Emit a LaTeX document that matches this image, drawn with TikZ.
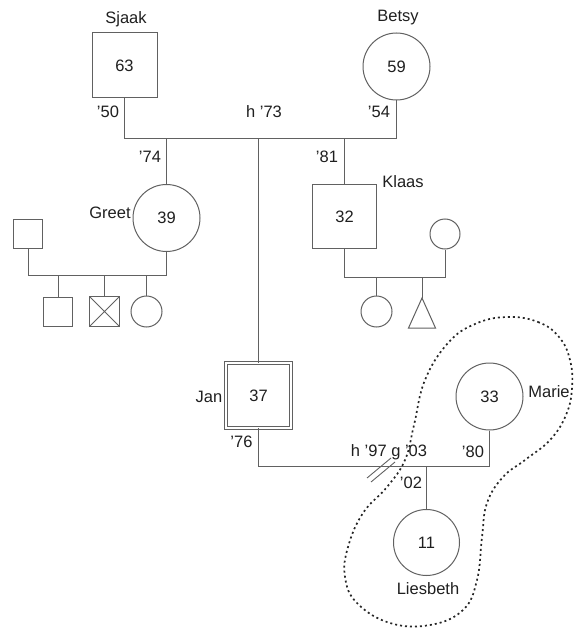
\documentclass[tikz,border=0pt]{standalone}
\usepackage{fontspec}
\setmainfont{Liberation Sans}
\usetikzlibrary{calc}
\begin{document}
\begin{tikzpicture}[x=1pt,y=-1pt,
  ln/.style={draw=black!62,line width=1pt},
  person/.style={ln,inner sep=0pt,font=\fontsize{16.5}{19}\selectfont,text=black!88},
  male/.style={person,rectangle,minimum size=#1},
  female/.style={person,circle,minimum size=#1},
  lbl/.style={inner sep=0pt,font=\fontsize{16.5}{19}\selectfont,text=black!88},
  crossed/.style={path picture={\draw[black!62,line width=1pt]
     (path picture bounding box.north west) -- (path picture bounding box.south east)
     (path picture bounding box.north east) -- (path picture bounding box.south west);}},
  conn/.style={draw=black!62,line width=1pt}
]
\useasboundingbox (0,0) rectangle (574,628);

% persons
\node[male=65] (sjaak) at (124.5,65.5) {63};
\node[female=67] (betsy) at (396.5,66.5) {59};
\node[female=67] (greet) at (166.5,218) {39};
\node[male=64] (klaas) at (344.5,216.5) {32};
\node[male=65,double=white,double distance=2.2pt,line width=0.8pt] (jan) at (258.5,395.5) {37};
\node[female=67] (marie) at (489.5,396.5) {33};
\node[female=66] (liesbeth) at (426.5,542.5) {11};

\node[male=29] (gsp) at (28,234) {};
\node[male=29] (gc1) at (58,311.5) {};
\node[male=30,crossed] (gc2) at (104.5,311.5) {};
\node[female=31] (gc3) at (146.5,311.5) {};

\node[female=30] (ksp) at (445,234) {};
\node[female=31] (kc1) at (376.5,311.5) {};
\coordinate (kc2) at (422,298);
\draw[ln,line join=miter] (kc2) -- (435.5,328) -- (408.5,328) -- cycle;

% marriage / sibship lines
\coordinate (m1) at (0,139);
\coordinate (m2) at (0,275);
\coordinate (m3) at (0,277);
\coordinate (m4) at (0,466);

\draw[conn] (sjaak.south) -- (sjaak.south |- m1) -- (betsy.south |- m1) -- (betsy.south);
\draw[conn] (greet.north) -- (greet.north |- m1);
\draw[conn] (jan.north) -- (jan.north |- m1);
\draw[conn] (klaas.north) -- (klaas.north |- m1);

\draw[conn] (gsp.south) -- (gsp.south |- m2) -- (greet.south |- m2) -- (greet.south);
\draw[conn] (gc1.north) -- (gc1.north |- m2);
\draw[conn] (gc2.north) -- (gc2.north |- m2);
\draw[conn] (gc3.north) -- (gc3.north |- m2);

\draw[conn] (klaas.south) -- (klaas.south |- m3) -- (ksp.south |- m3) -- (ksp.south);
\draw[conn] (kc1.north) -- (kc1.north |- m3);
\draw[conn] (kc2) -- (kc2 |- m3);

\draw[conn] (jan.south) -- (jan.south |- m4) -- (marie.south |- m4) -- (marie.south);
\draw[conn] (liesbeth.north) -- (liesbeth.north |- m4);

% divorce marks
\coordinate (div) at (382,469);
\draw[ln,line width=0.9pt] ($(div)+(-15,9)$) -- ($(div)+(9,-11)$);
\draw[ln,line width=0.9pt] ($(div)+(-11,13)$) -- ($(div)+(13,-7)$);

% labels
\node[lbl] (lsjaak) at (126,19) {Sjaak};
\node[lbl] (lbetsy) at (398,18) {Betsy};
\node[lbl] (l50) at (108,112) {'50};
\node[lbl] (l73) at (264,112) {h '73};
\node[lbl] (l54) at (379,112) {'54};
\node[lbl] (l74) at (150,157) {'74};
\node[lbl] (l81) at (327,157) {'81};
\node[lbl] (lgreet) at (110,213) {Greet};
\node[lbl] (lklaas) at (403,182) {Klaas};
\node[lbl] (ljan) at (209,397) {Jan};
\node[lbl] (l76) at (241.5,441.5) {'76};
\node[lbl] (l97) at (389,452) {h '97 g '03};
\node[lbl] (l80) at (473,452) {'80};
\node[lbl] (l02) at (411,483) {'02};
\node[lbl] (lmarie) at (549,392) {Marie};
\node[lbl] (lliesbeth) at (428,589) {Liesbeth};

% dotted contour
\draw[black!85,line width=1.7pt,dash pattern=on 2pt off 3pt]
  plot[smooth cycle,tension=0.7] coordinates {
   (507,317) (538,322) (559,337) (570,360) (572,388) (566,415) (550,440)
   (525,460) (503,477) (487,503) (482,537) (477,580) (463,610) (430,625) (390,623)
   (357,603) (345,577) (348,547) (363,513) (387,487) (405,460) (414,425)
   (425,380) (448,343) (475,324) };
\end{tikzpicture}
\end{document}
